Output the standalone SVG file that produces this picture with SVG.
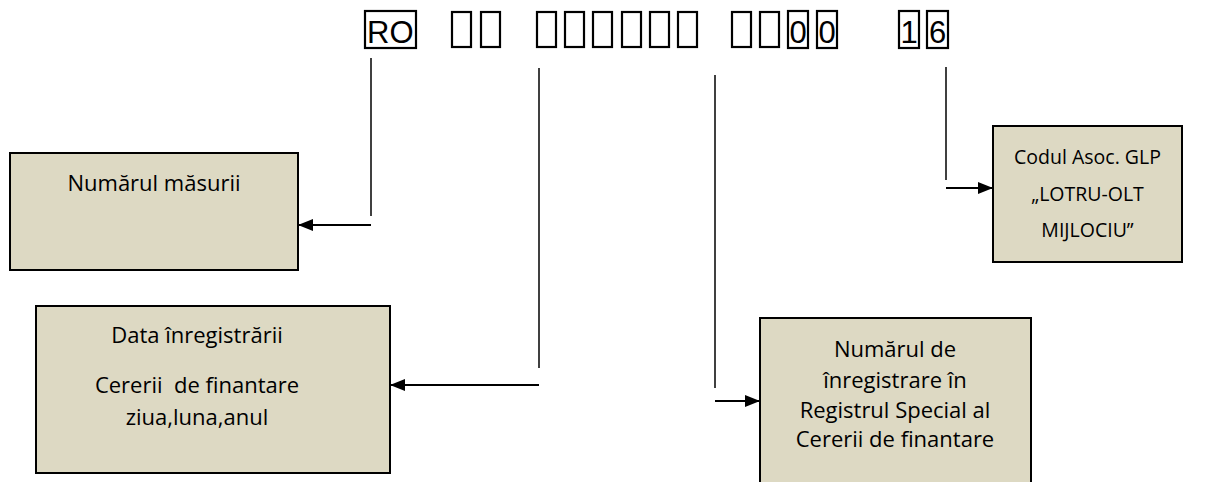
<svg xmlns="http://www.w3.org/2000/svg" width="1225" height="482" viewBox="0 0 1225 482">
<style>
.box{fill:#ddd9c3;stroke:#000;stroke-width:2}
.lbl{font-family:"Open Sans","Noto Sans",sans-serif;font-size:22px;fill:#000;text-anchor:middle}
.sm{font-size:19.5px}
.code{font-family:"Liberation Sans",Arial,sans-serif;font-size:31px;fill:#000}
.cb{fill:none;stroke:#000;stroke-width:2.2}
.v{stroke:#000;stroke-width:1.5;fill:none}
.h{stroke:#000;stroke-width:2.2;fill:none}
</style>
<defs>
<marker id="ah" markerWidth="15" markerHeight="12" refX="15" refY="6" orient="auto" markerUnits="userSpaceOnUse">
<path d="M0,0 L15,6 L0,12 Z" fill="#000"/>
</marker>
</defs>
<g id="code">
<rect class="cb" x="365" y="11" width="51" height="37"/>
<text class="code" x="367" y="43">RO</text>
<rect class="cb" x="452" y="12" width="19" height="35"/>
<rect class="cb" x="481" y="12" width="19" height="35"/>
<rect class="cb" x="537" y="12" width="19" height="35"/>
<rect class="cb" x="565" y="12" width="19" height="35"/>
<rect class="cb" x="593" y="12" width="19" height="35"/>
<rect class="cb" x="622" y="12" width="19" height="35"/>
<rect class="cb" x="650" y="12" width="19" height="35"/>
<rect class="cb" x="678" y="12" width="19" height="35"/>
<rect class="cb" x="732" y="12" width="19" height="35"/>
<rect class="cb" x="760" y="12" width="19" height="35"/>
<rect class="cb" x="788" y="11" width="20" height="37"/>
<text class="code" x="789.5" y="43">0</text>
<rect class="cb" x="817" y="11" width="20" height="37"/>
<text class="code" x="818.5" y="43">0</text>
<rect class="cb" x="899" y="11" width="20" height="37"/>
<text class="code" x="900.5" y="43">1</text>
<rect class="cb" x="927" y="11" width="21" height="37"/>
<text class="code" x="929" y="43">6</text>
</g>
<g id="connectors">
<path class="v" d="M371,58 V216"/>
<path class="h" d="M371,225 H298" marker-end="url(#ah)"/>
<path class="v" d="M539,68 V368"/>
<path class="h" d="M539,385 H390" marker-end="url(#ah)"/>
<path class="v" d="M715,75 V388"/>
<path class="h" d="M715,401 H760" marker-end="url(#ah)"/>
<path class="v" d="M946,67 V180"/>
<path class="h" d="M946,188 H993" marker-end="url(#ah)"/>
</g>
<g id="node-masura">
<rect class="box" x="10" y="153" width="288" height="117"/>
<text class="lbl" x="154" y="191">Numărul măsurii</text>
</g>
<g id="node-data">
<rect class="box" x="36" y="306" width="354" height="167"/>
<text class="lbl" x="197" y="343">Data înregistrării</text>
<text class="lbl" x="197" y="393" xml:space="preserve">Cererii  de finantare</text>
<text class="lbl" x="197" y="425">ziua,luna,anul</text>
</g>
<g id="node-numar">
<rect class="box" x="760" y="318" width="271" height="170"/>
<text class="lbl" x="895" y="357">Numărul de</text>
<text class="lbl" x="895" y="388">înregistrare în</text>
<text class="lbl" x="895" y="418">Registrul Special al</text>
<text class="lbl" x="895" y="447">Cererii de finantare</text>
</g>
<g id="node-cod">
<rect class="box" x="993" y="126" width="189" height="136"/>
<text class="lbl sm" x="1087.5" y="164">Codul Asoc. GLP</text>
<text class="lbl sm" x="1087.5" y="201">„LOTRU-OLT</text>
<text class="lbl sm" x="1087.5" y="237">MIJLOCIU”</text>
</g>
</svg>
